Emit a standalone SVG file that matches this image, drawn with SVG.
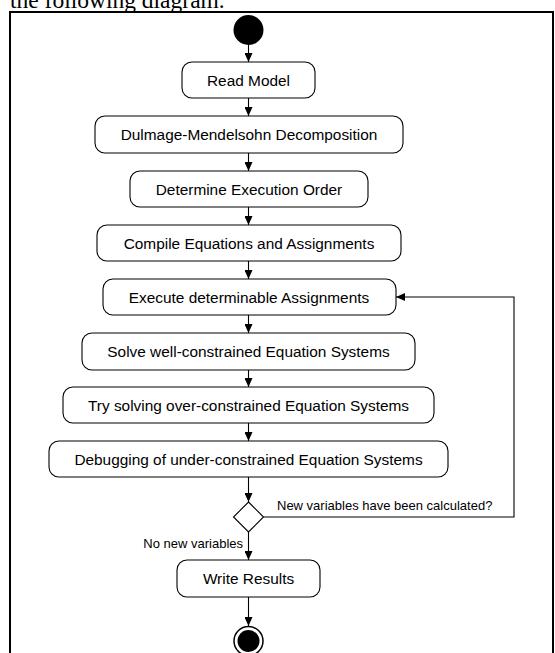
<svg xmlns="http://www.w3.org/2000/svg" width="555" height="653" viewBox="0 0 555 653">
<defs>
<marker id="ah" markerUnits="userSpaceOnUse" markerWidth="10" markerHeight="8" refX="9" refY="4" orient="auto">
<path d="M0,0 L9,4 L0,8 Z" fill="#000"/>
</marker>
<style>
.box{fill:#fff;stroke:#000;stroke-width:1.1}
.t{font-family:"Liberation Sans",Arial,sans-serif;font-size:15.4px;fill:#000;text-anchor:middle}
.lbl{font-family:"Liberation Sans",Arial,sans-serif;font-size:13px;fill:#000}
.c{fill:none;stroke:#000;stroke-width:1.1}
</style>
</defs>
<rect width="555" height="653" fill="#fff"/>
<text x="10" y="8" font-family="'Liberation Serif','Times New Roman',serif" font-size="23.5" fill="#000">the following diagram.</text>
<rect x="10" y="12" width="543" height="660" fill="none" stroke="#000" stroke-width="2"/>
<g id="connectors">
<line class="c" x1="248.5" y1="45" x2="248.5" y2="62" marker-end="url(#ah)"/>
<line class="c" x1="248.5" y1="98" x2="248.5" y2="116" marker-end="url(#ah)"/>
<line class="c" x1="248.5" y1="153" x2="248.5" y2="171" marker-end="url(#ah)"/>
<line class="c" x1="248.5" y1="207" x2="248.5" y2="225" marker-end="url(#ah)"/>
<line class="c" x1="248.5" y1="261" x2="248.5" y2="279" marker-end="url(#ah)"/>
<line class="c" x1="248.5" y1="315" x2="248.5" y2="333" marker-end="url(#ah)"/>
<line class="c" x1="248.5" y1="370" x2="248.5" y2="387" marker-end="url(#ah)"/>
<line class="c" x1="248.5" y1="423" x2="248.5" y2="441" marker-end="url(#ah)"/>
<line class="c" x1="248.5" y1="477" x2="248.5" y2="502" marker-end="url(#ah)"/>
<line class="c" x1="248.5" y1="532" x2="248.5" y2="560" marker-end="url(#ah)"/>
<line class="c" x1="248.5" y1="597" x2="248.5" y2="626" marker-end="url(#ah)"/>
<polyline class="c" points="263.5,517 514,517 514,297 396,297" marker-end="url(#ah)"/>
<text class="lbl" x="277" y="510">New variables have been calculated?</text>
<text class="lbl" x="243" y="548" text-anchor="end">No new variables</text>
</g>
<g id="start"><circle cx="248.5" cy="30" r="15" fill="#000"/></g>
<g id="n1"><rect class="box" x="182" y="62" width="133" height="36" rx="10"/><text class="t" x="248.5" y="85.5">Read Model</text></g>
<g id="n2"><rect class="box" x="95" y="116" width="308" height="37" rx="10"/><text class="t" x="249" y="140">Dulmage-Mendelsohn Decomposition</text></g>
<g id="n3"><rect class="box" x="130" y="171" width="238" height="36" rx="10"/><text class="t" x="249" y="194.5">Determine Execution Order</text></g>
<g id="n4"><rect class="box" x="97" y="225" width="304" height="36" rx="10"/><text class="t" x="249" y="248.5">Compile Equations and Assignments</text></g>
<g id="n5"><rect class="box" x="103" y="279" width="293" height="36" rx="10"/><text class="t" x="249" y="302.5">Execute determinable Assignments</text></g>
<g id="n6"><rect class="box" x="82" y="333" width="333" height="37" rx="10"/><text class="t" x="248.5" y="357">Solve well-constrained Equation Systems</text></g>
<g id="n7"><rect class="box" x="63" y="387" width="371" height="36" rx="10"/><text class="t" x="248.5" y="410.5">Try solving over-constrained Equation Systems</text></g>
<g id="n8"><rect class="box" x="49" y="441" width="399" height="36" rx="10"/><text class="t" x="248.5" y="464.5">Debugging of under-constrained Equation Systems</text></g>
<g id="decision"><polygon points="248.5,502 263.5,517 248.5,532 233.5,517" fill="#fff" stroke="#000" stroke-width="1.1"/></g>
<g id="n9"><rect class="box" x="177" y="560" width="143" height="37" rx="10"/><text class="t" x="248.5" y="584">Write Results</text></g>
<g id="end"><circle cx="248.5" cy="641" r="14.5" fill="#fff" stroke="#000" stroke-width="1.5"/><circle cx="248.5" cy="641" r="11" fill="#000"/></g>
</svg>
